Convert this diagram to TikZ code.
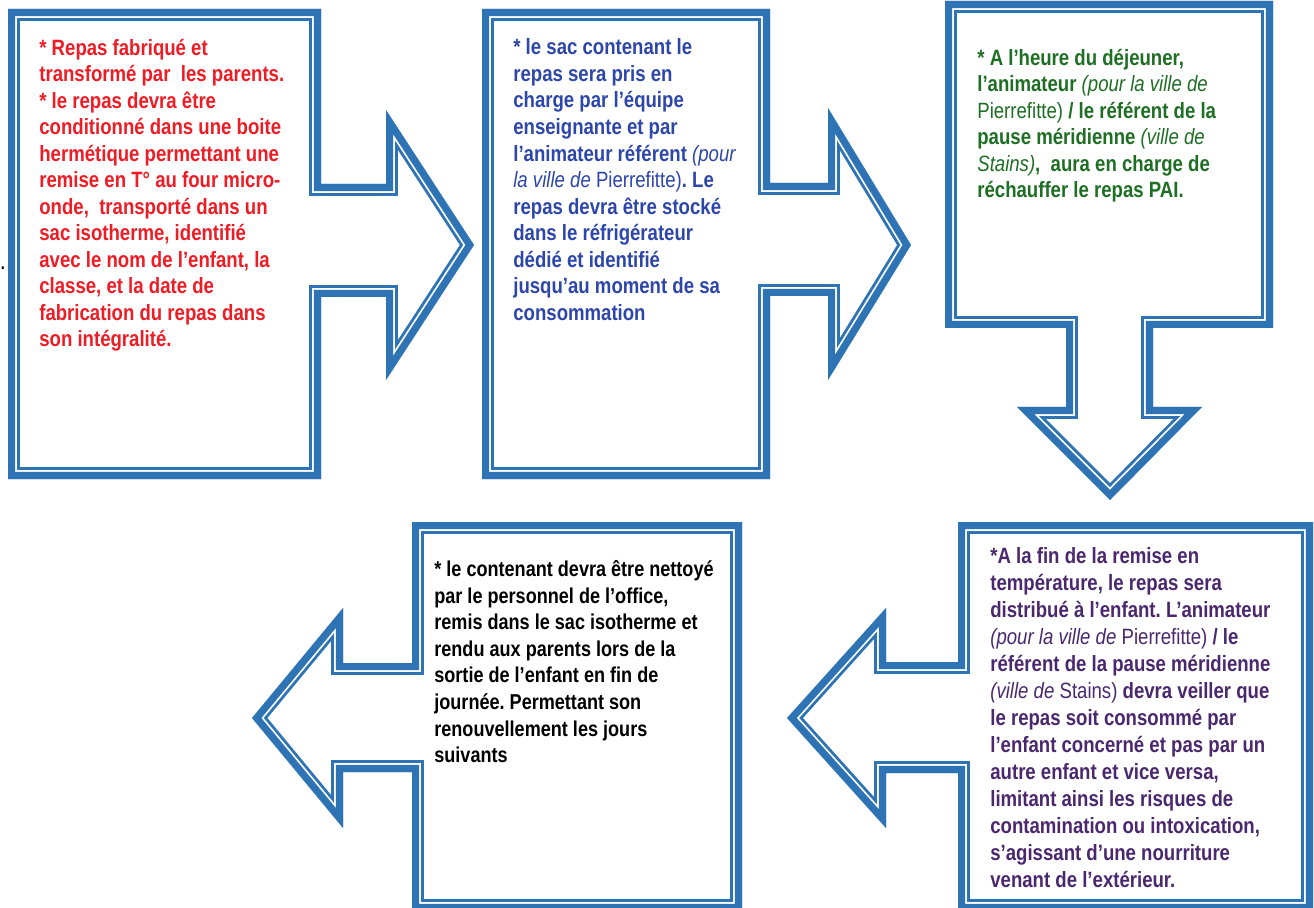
\documentclass[tikz,border=0pt]{standalone}
\usepackage{fontspec}
\setmainfont{Liberation Sans}[FakeStretch=0.84]
\usepackage{tikz}
\definecolor{bandblue}{RGB}{46,116,181}
\definecolor{redtxt}{RGB}{238,28,36}
\definecolor{bluetxt}{RGB}{45,70,170}
\definecolor{greentxt}{RGB}{30,110,35}
\definecolor{purpletxt}{RGB}{75,40,110}
\tikzset{
    bandout/.style={draw=bandblue,line width=13.5pt,line join=miter},
    bandgap/.style={draw=white,line width=10.2pt,line join=miter},
    bandin/.style={draw=bandblue,line width=8.2pt,line join=miter},
    stepnote/.style={anchor=north west,inner sep=0pt,align=left,
        font=\fontsize{12.6}{15.1}\selectfont\bfseries\frenchspacing,execute at begin node=\strut},
}
\newcommand\callout[1]{%
  \begin{scope}
    \clip #1;
    \fill[white] #1;
    \draw[bandout] #1;
    \draw[bandgap] #1;
    \draw[bandin] #1;
  \end{scope}}
\newcommand\lightit[1]{{\mdseries\itshape #1}}
\newcommand\lightrm[1]{{\mdseries #1}}

\begin{document}
\begin{tikzpicture}[x=0.02cm,y=-0.02cm]
\useasboundingbox (0,0) rectangle (1314,908);
\callout{(8,9) -- (321,9) -- (321,184) -- (386,184) -- (386,110) -- (474,245) -- (386,380) -- (386,297) -- (321,297) -- (321,479) -- (8,479) -- cycle}
\callout{(482,9) -- (770,9) -- (770,183) -- (828,183) -- (828,108) -- (911,245) -- (828,380) -- (828,296) -- (770,296) -- (770,479) -- (482,479) -- cycle}
\callout{(945,1) -- (1273,1) -- (1273,328) -- (1153,328) -- (1153,407) -- (1202,407) -- (1110,500) -- (1017,407) -- (1066,407) -- (1066,328) -- (945,328) -- cycle}
\callout{(958,522) -- (1313,522) -- (1313,911) -- (958,911) -- (958,773) -- (886,773) -- (886,828) -- (787,718) -- (886,608) -- (886,662) -- (958,662) -- cycle}
\callout{(412,522) -- (742,522) -- (742,911) -- (412,911) -- (412,772) -- (343,772) -- (343,828) -- (252,718) -- (343,608) -- (343,663) -- (412,663) -- cycle}

\node[stepnote,text=redtxt] (T1) at (39,38.5) {* Repas fabriqué et\\
transformé par~ les parents.\\
* le repas devra être\\
conditionné dans une boite\\
hermétique permettant une\\
remise en T° au four micro-\\
onde,~ transporté dans un\\
sac isotherme, identifié\\
avec le nom de l’enfant, la\\
classe, et la date de\\
fabrication du repas dans\\
son intégralité.};
\node[stepnote,text=bluetxt] (T2) at (513,38.5) {* le sac contenant le\\
repas sera pris en\\
charge par l’équipe\\
enseignante et par\\
l’animateur référent \lightit{(pour}\\
\lightit{la ville de} \lightrm{Pierrefitte)}. Le\\
repas devra être stocké\\
dans le réfrigérateur\\
dédié et identifié\\
jusqu’au moment de sa\\
consommation};
\node[stepnote,text=greentxt] (T3) at (977,48.5) {* A l’heure du déjeuner,\\
l’animateur \lightit{(pour la ville de}\\
\lightrm{Pierrefitte)} / le référent de la\\
pause méridienne \lightit{(ville de}\\
\lightit{Stains)},~ aura en charge de\\
réchauffer le repas PAI.};
\node[stepnote,text=purpletxt,font=\fontsize{12.6}{15.35}\selectfont\bfseries\frenchspacing] (T4) at (990,547) {*A la fin de la remise en\\
température, le repas sera\\
distribué à l’enfant. L’animateur\\
\lightit{(pour la ville de} \lightrm{Pierrefitte)} / le\\
référent de la pause méridienne\\
\lightit{(ville de} \lightrm{Stains)} devra veiller que\\
le repas soit consommé par\\
l’enfant concerné et pas par un\\
autre enfant et vice versa,\\
limitant ainsi les risques de\\
contamination ou intoxication,\\
s’agissant d’une nourriture\\
venant de l’extérieur.};
\node[stepnote,text=black,font=\fontsize{12.25}{15.1}\selectfont\bfseries\frenchspacing] (T5) at (434,560.4) {* le contenant devra être nettoyé\\
par le personnel de l’office,\\
remis dans le sac isotherme et\\
rendu aux parents lors de la\\
sortie de l’enfant en fin de\\
journée. Permettant son\\
renouvellement les jours\\
suivants};
\node[inner sep=0pt,font=\bfseries] (dot) at (3,268) {.};
\end{tikzpicture}
\end{document}
